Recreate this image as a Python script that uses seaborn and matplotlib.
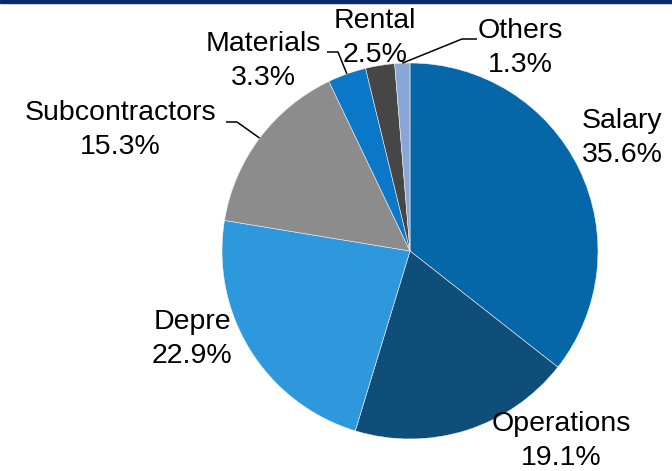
import matplotlib
matplotlib.use("Agg")
import matplotlib.pyplot as plt
import seaborn as sns
import numpy as np

sns.set_theme(style="white")
plt.rcParams["font.family"] = ["Liberation Sans", "DejaVu Sans"]

# Cost breakdown (share of total, %)
categories = ["Salary", "Operations", "Depre", "Subcontractors", "Materials", "Rental", "Others"]
shares = [35.6, 19.1, 22.9, 15.3, 3.3, 2.5, 1.3]
colors = ["#0566a8", "#0f4e79", "#2e98dd", "#8c8c8c", "#0a77c9", "#464646", "#88a7d6"]

# Label placement (pixel centres of each two-line label) and leader elbows
W, H, DPI = 672, 471, 100
cx, cy, R = 410, 251, 188
label_px = {
    "Salary": (622, 138),
    "Operations": (561, 441),
    "Depre": (192, 339),
    "Subcontractors": (120, 130),
    "Materials": (263, 61),
    "Rental": (375, 38),
    "Others": (520, 48),
}
# leader lines: (end of horizontal stub, elbow) in pixels
leaders = {
    "Subcontractors": [(226, 122), (237, 122)],
    "Materials": [(327, 52), (338, 52)],
    "Others": [(477, 39), (462, 39)],
}


def to_data(px, py):
    return (px - cx) / R, (cy - py) / R


fig = plt.figure(figsize=(W / DPI, H / DPI), dpi=DPI)
ax = fig.add_axes([0, 0, 1, 1])
ax.axis("off")

wedges, _ = ax.pie(
    shares,
    colors=colors,
    startangle=90,
    counterclock=False,
    radius=1.0,
    center=(0, 0),
    wedgeprops=dict(edgecolor="#f0f0f0", linewidth=0.4),
)
ax.set_xlim(-cx / R, (W - cx) / R)
ax.set_ylim(-(H - cy) / R, cy / R)
ax.set_aspect("equal")

for name, share, w in zip(categories, shares, wedges):
    lx, ly = to_data(*label_px[name])
    ax.text(lx, ly, f"{name}\n{share:.1f}%", ha="center", va="center",
            fontsize=20.5, color="black", linespacing=1.4)
    if name in leaders:
        mid = np.deg2rad((w.theta1 + w.theta2) / 2)
        edge = (np.cos(mid), np.sin(mid))
        pts = [to_data(*p) for p in leaders[name]] + [edge]
        xs, ys = zip(*pts)
        ax.plot(xs, ys, color="black", linewidth=1.1, solid_capstyle="butt")

# navy rule along the top edge
fig.patches.append(plt.Rectangle((0, 1 - 3 / H), 1, 3 / H, transform=fig.transFigure,
                                 color="#0b2868", zorder=10))

fig.savefig("out.png", dpi=DPI)
